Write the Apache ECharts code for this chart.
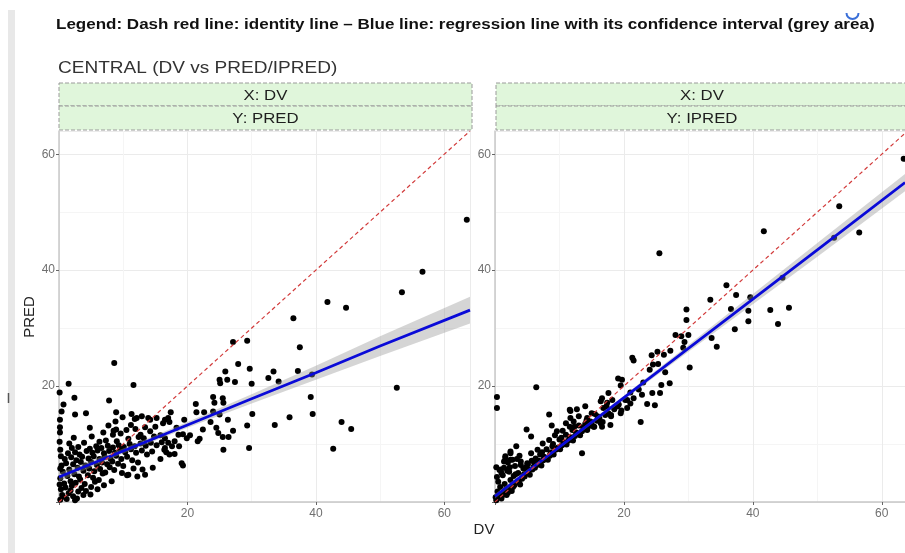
<!DOCTYPE html>
<html><head><meta charset="utf-8">
<script src="https://cdn.jsdelivr.net/npm/echarts@6.0.0/dist/echarts.min.js"></script>
<style>html,body{margin:0;padding:0;background:#fff}#c{width:905px;height:553px}</style>
</head><body><div id="c"></div>
<script>
// ---- texts ----
const legendText = 'Legend: Dash red line: identity line \u2013 Blue line: regression line with its confidence interval (grey area)';
const titleText = 'CENTRAL (DV vs PRED/IPRED)';
const stripX = ['X: DV', 'X: DV'];
const stripY = ['Y: PRED', 'Y: IPRED'];
const xName = 'DV';
const yName = 'PRED';
const tickValues = [20, 40, 60];

// ---- data: [DV, PRED] ----
const predPoints = [
[63.5,48.7],[56.6,39.7],[53.4,36.2],[41.8,34.5],[44.7,33.5],[36.5,31.7],
[29.3,27.8],[27.1,27.6],[37.5,26.7],[27.9,23.8],[25.9,22.5],[29.7,23.0],[33.4,22.5],[37.2,22.6],[32.6,21.4],[34.2,20.8],[39.4,22.0],[26.2,21.1],[27.4,20.7],[25.0,21.1],[25.1,20.5],[30.0,20.4],[52.6,19.7],[39.2,18.1],[24.0,18.1],[25.5,17.9],[24.2,17.1],[25.6,17.1],[21.3,16.9],[21.4,15.5],[22.6,15.5],[24.0,15.6],[25.0,15.1],[30.1,15.2],[39.5,15.2],[19.5,14.2],[17.4,15.5],[17.0,14.5],[16.5,14.2],[16.2,13.6],[17.2,13.8],[15.2,14.5],[14.2,14.2],[35.9,14.6],[26.3,14.2],[23.6,13.8],[44.0,13.8],[33.6,13.3],[29.3,13.2],[45.5,12.6],[27.1,12.3],[24.5,12.8],[24.8,11.9],[25.5,11.2],[26.4,11.2],[22.4,12.5],[21.9,10.9],[21.6,10.5],[20.4,11.5],[19.9,11.0],[19.3,11.7],[18.3,12.8],[18.6,11.6],[18.0,10.5],[18.7,9.6],[16.5,11.0],[17.0,10.2],[16.5,9.3],[16.7,8.6],[18.0,8.3],[19.1,6.7],[19.3,6.3],[25.6,9.0],[29.6,9.3],[42.7,9.2],
[8.6,24.0],[1.5,20.4],[11.6,20.2],[0.1,18.9],[2.4,18.0],[7.8,17.5],[0.7,16.8],[0.4,15.6],[2.5,15.1],[4.2,15.3],[8.9,15.5],[11.3,15.2],[12.1,14.5],[11.8,14.3],[12.9,14.8],[13.9,14.5],[8.8,13.9],[0.15,14.2],[4.8,12.8],[0.15,12.9],[8.9,12.5],[8.4,11.6],[0.15,12.0],[11.2,13.3],[11.9,12.6],[12.7,11.6],[13.4,12.9],
[0.2,0.4],[1.2,0.5],[2.8,0.6],[0.5,1.2],[1.5,1.5],[2.2,1.0],[3.0,1.8],[0.3,2.2],[1.0,2.5],[2.0,2.8],[3.5,2.4],[4.2,1.9],[0.8,3.2],[1.8,3.6],[2.6,3.3],[3.3,3.9],[4.0,3.1],[5.0,2.6],[5.6,3.5],[0.2,4.1],[1.3,4.5],[2.4,4.8],[3.1,4.4],[4.5,4.6],[5.3,4.2],[6.2,3.8],[6.8,4.9],[0.6,5.2],[1.6,5.6],[2.9,5.9],[3.8,5.4],[4.7,5.8],[5.5,5.3],[6.4,5.7],[7.2,5.1],[7.9,6.0],[8.6,5.5],[0.4,6.3],[1.1,6.7],[2.2,6.5],[3.4,6.9],[4.1,6.3],[5.0,6.9],[5.9,6.4],[6.7,6.8],[7.5,6.5],[8.3,7.0],[9.2,6.6],[10.0,6.2],[0.9,7.4],[1.9,7.7],[2.7,7.2],[3.6,7.8],[4.6,7.5],[5.4,7.9],[6.3,7.4],[7.1,7.8],[8.0,7.5],[8.9,8.0],[9.7,7.4],[10.6,7.8],[11.4,7.2],[12.3,6.8],[1.4,8.4],[2.5,8.6],[3.2,8.2],[4.3,8.8],[5.2,8.5],[6.0,8.9],[7.0,8.4],[7.8,8.8],[8.7,8.5],[9.5,9.0],[10.3,8.6],[11.2,9.1],[12.0,8.5],[12.9,8.9],[13.7,8.2],[14.5,8.7],[2.0,9.3],[3.0,9.5],[4.8,9.2],[5.8,9.6],[6.6,9.3],[7.6,9.7],[8.4,9.4],[9.3,9.8],[10.1,9.5],[11.0,10.0],[11.8,9.6],[12.7,10.1],[13.5,9.7],[14.3,10.2],[15.2,9.8],[16.0,10.3],[3.9,10.2],[6.3,10.4],[7.3,10.6],[9.0,10.5],[10.8,10.9],[12.4,11.2],[13.2,11.0],[14.8,11.3],[15.8,11.5],[11.6,5.8],[13.0,5.6],[12.2,4.4],[13.4,4.7],[10.8,4.7],[14.6,5.9],[9.8,5.0],[10.6,4.6],[8.2,3.6],[7.0,2.9],[15.8,7.4],[17.2,8.2],[16.4,9.0],[17.6,9.6],[15.0,13.0],[14.2,12.2],[10.5,12.4],[9.6,11.8],[8.5,12.3],[0.2,9.0],[0.1,10.4],[0.3,7.9],[0.1,3.0],[0.2,5.8],[1.6,10.1],[2.3,11.1],[5.1,11.3],[6.9,12.0],[7.7,13.2],[9.9,14.6],[0.6,0.9],[1.8,2.0],[3.8,1.2],[2.5,0.3],[6.0,2.2],[4.9,1.3]
];

// ---- data: [DV, IPRED] ----
const ipredPoints = [
[63.4,59.2],[53.4,51.0],[41.7,46.7],[56.5,46.5],[52.6,45.6],[25.5,42.9],[44.6,38.7],[35.9,37.4],[33.4,34.9],[37.4,35.7],[39.6,35.3],[29.7,33.2],[36.6,33.3],[39.3,33.0],[42.7,33.1],[45.6,33.5],[29.7,31.4],[39.3,31.2],[43.9,30.7],[37.2,29.8],[28.0,28.8],[28.9,28.6],[30.0,28.8],[33.6,28.3],[29.4,27.6],[29.2,26.6],[34.4,26.8],[27.2,26.1],[26.2,25.4],[25.2,25.9],[24.3,25.3],[21.3,24.9],[21.5,24.4],[30.2,23.2],[25.3,23.8],[24.5,23.7],[24.0,22.8],[26.4,22.4],[19.1,21.3],[19.7,21.1],[19.5,20.1],[22.3,19.4],[22.8,18.5],[21.5,17.9],[27.1,20.5],[25.8,20.2],[25.6,18.8],[24.4,18.8],[24.8,16.7],[23.6,16.9],[22.6,13.8],[20.2,17.6],[19.5,15.3],[19.2,16.8],[18.2,17.6],[17.6,18.8],[16.6,17.9],[16.4,17.4],[17.4,17.1],[14.0,16.5],[15.0,15.3],[14.3,14.5],[12.7,16.0],[11.6,15.9],[11.7,14.5],[12.2,13.9],[8.4,15.1],[8.8,13.2],[4.9,12.5],[5.6,11.3],[3.3,9.6],[6.4,19.8],[0.3,18.1],[0.3,16.2],[17.9,13.3],[16.6,13.0],[16.4,13.6],[13.5,8.4],[15.3,13.0],[14.8,13.9],[2.4,8.4],[2.7,7.3],[1.4,7.0],[1.6,7.9],[4.0,6.4],[5.0,6.7],[18.0,15.0],[20.5,16.2],[21.0,18.9],[23.0,20.6],[11.7,15.7],[2.4,8.7],[1.6,7.6],[2.4,7.3],[1.4,5.9],[0.9,5.6],
[0.2,0.3],[0.6,0.9],[1.0,0.6],[1.3,1.5],[0.4,1.8],[1.8,1.2],[2.1,2.3],[0.8,2.6],[2.6,1.9],[3.0,2.9],[1.5,3.1],[3.4,3.4],[2.4,3.8],[3.9,3.0],[4.2,4.0],[0.3,4.3],[1.2,4.6],[2.9,4.5],[4.6,4.4],[5.0,5.1],[3.6,5.0],[5.4,4.7],[1.9,5.4],[0.7,5.5],[5.8,5.6],[4.4,5.8],[6.2,5.9],[6.5,6.4],[2.3,6.0],[3.1,6.2],[5.1,6.5],[6.9,6.7],[7.2,6.3],[4.0,7.0],[5.7,7.1],[7.5,7.2],[6.3,7.5],[7.9,7.6],[8.2,7.3],[3.4,7.4],[8.5,8.0],[7.0,8.2],[8.8,8.6],[9.1,8.2],[5.6,8.4],[9.4,9.0],[8.0,9.1],[9.8,9.4],[10.1,9.1],[6.6,9.0],[10.4,9.8],[9.0,10.0],[10.8,10.2],[11.1,9.9],[7.4,10.1],[11.4,10.6],[10.0,10.8],[11.8,11.0],[12.1,10.6],[8.4,10.7],[12.4,11.4],[11.0,11.6],[12.8,11.8],[13.2,11.5],[13.5,12.2],[12.0,12.4],[13.9,12.6],[14.3,12.4],[9.3,11.5],[14.6,13.1],[13.0,13.2],[15.0,13.4],[15.4,13.0],[10.5,12.3],[15.8,14.0],[14.2,14.1],[16.2,14.4],[16.7,13.8],[11.6,13.0],[17.1,15.0],[15.5,15.2],[17.6,15.3],[18.0,14.8],[16.8,16.2],[18.5,16.0],[19.0,16.5],[20.5,17.6],[21.0,17.0],[19.6,15.8],[1.1,1.1],[2.0,1.6],[2.8,2.6],[3.7,3.6],[4.5,4.8],[5.3,5.6],[6.0,6.1],[6.8,7.1],[7.6,7.8],[8.6,8.4],[9.6,9.2],[10.6,10.4],[11.6,11.2],[12.6,12.0],[13.7,12.9],[0.1,0.8],[0.5,3.5],[1.7,2.2],[3.2,4.8],[4.8,6.0],[6.1,6.8],[7.3,8.6],[8.9,9.6],[10.3,11.1],[12.3,13.0],[14.0,13.5],[15.9,14.8],[17.3,16.5],[13.0,14.8],[11.0,13.6],[9.6,12.2],[1.0,5.0],[2.2,5.2],[2.0,6.8],[3.8,8.0],[0.2,6.0]
];

// ---- regression fits ----
const predFitX  = [0, 10, 20, 30, 40, 50, 64];
const predFit   = [4.3, 8.8, 13.3, 17.8, 22.3, 26.9, 33.1];
const predLo    = [3.6, 8.35, 12.8, 17.0, 21.1, 25.2, 30.8];
const predHi    = [5.0, 9.25, 13.8, 18.6, 23.5, 28.6, 35.4];
const ipredFitX = [0, 10, 20, 30, 40, 50, 63.6];
const ipredFit  = [1.0, 9.5, 18.0, 26.5, 35.0, 43.5, 55.1];
const ipredLo   = [0.6, 9.25, 17.65, 25.9, 34.1, 42.3, 53.6];
const ipredHi   = [1.4, 9.75, 18.35, 27.1, 35.9, 44.7, 56.6];
const identityLine = [[0, 0], [64, 64]];

// ---- layout ----
const FONT = 'Liberation Sans, Arial, Helvetica, sans-serif';
const grids = [
  {left: 59, top: 131, width: 411, height: 371},
  {left: 495, top: 131, width: 410, height: 371}
];
const xMax = [64, 63.6];
const yMax = 64;

function axisOf(i, isX) {
  return {
    gridIndex: i, type: 'value', min: 0, max: isX ? xMax[i] : yMax, interval: 20,
    axisLine: {show: true, onZero: false, lineStyle: {color: '#c8c8c8', width: 1.5}},
    axisTick: {show: true, length: 3, lineStyle: {color: '#666'}},
    axisLabel: {color: '#707070', fontSize: 12, fontFamily: FONT, margin: isX ? 6 : 4,
      showMaxLabel: false, formatter: v => (tickValues.indexOf(v) >= 0 ? String(v) : '')},
    splitLine: {show: true, lineStyle: {color: '#ebebeb', width: 1}},
    minorTick: {show: false, splitNumber: 2},
    minorSplitLine: {show: true, lineStyle: {color: '#f5f5f5', width: 1}}
  };
}
function bandSeries(i, xs, lo, hi) {
  return {
    type: 'custom', xAxisIndex: i, yAxisIndex: i, data: [[xs[0], lo[0]]], z: 3, silent: true,
    renderItem: (params, api) => {
      const pts = [];
      for (let k = 0; k < xs.length; k++) pts.push(api.coord([xs[k], hi[k]]));
      for (let k = xs.length - 1; k >= 0; k--) pts.push(api.coord([xs[k], lo[k]]));
      return {type: 'polygon', shape: {points: pts}, style: {fill: 'rgba(150,150,150,0.4)'}};
    }
  };
}
function pairs(xs, ys) { return xs.map((x, k) => [x, ys[k]]); }

const series = [];
[[predPoints, predFitX, predFit, predLo, predHi], [ipredPoints, ipredFitX, ipredFit, ipredLo, ipredHi]]
.forEach((d, i) => {
  series.push({type: 'scatter', xAxisIndex: i, yAxisIndex: i, data: d[0], symbolSize: 6,
    itemStyle: {color: '#000', opacity: 1}, z: 2, silent: true});
  series.push(bandSeries(i, d[1], d[3], d[4]));
  series.push({type: 'line', xAxisIndex: i, yAxisIndex: i, data: pairs(d[1], d[2]), symbol: 'none',
    lineStyle: {color: '#0a0ad8', width: 2.7}, z: 4, silent: true});
  series.push({type: 'line', xAxisIndex: i, yAxisIndex: i, data: identityLine, symbol: 'none', clip: true,
    lineStyle: {color: '#d23b3b', width: 1.2, type: [4, 3]}, z: 5, silent: true});
});

// decorations and texts
const graphics = [];
graphics.push({type: 'rect', shape: {x: 8, y: 10, width: 7, height: 543}, style: {fill: '#e8e8e8'}, silent: true});
graphics.push({type: 'line', shape: {x1: 8.5, y1: 393, x2: 8.5, y2: 403}, style: {stroke: '#555', lineWidth: 1.5}, silent: true});
graphics.push({type: 'arc', shape: {cx: 852.5, cy: 13, r: 6, startAngle: 0, endAngle: Math.PI}, style: {stroke: '#3a6fd8', lineWidth: 2, fill: null}, silent: true, z: 10});
grids.forEach((g, i) => {
  const w = g.width + 2;
  const x0 = g.left + (i === 0 ? 0 : 1);
  [[83, 23, stripX[i]], [106, 24, stripY[i]]].forEach(([y, h, t]) => {
    graphics.push({type: 'rect', shape: {x: x0, y: y, width: w, height: h},
      style: {fill: '#e0f6db', stroke: '#9a9a9a', lineWidth: 1, lineDash: [4, 2]}, silent: true});
    graphics.push({type: 'text', x: x0 + w / 2, y: y + h / 2 + 1, scaleX: 1.12,
      style: {text: t, fill: '#1e1e1e', font: '15px ' + FONT, align: 'center', verticalAlign: 'middle'}, silent: true});
  });
});
graphics.push({type: 'text', x: 56, y: 25, scaleX: 1.134, style: {text: legendText, fill: '#111', font: 'bold 15px ' + FONT, verticalAlign: 'middle'}, silent: true});
graphics.push({type: 'text', x: 58, y: 68, scaleX: 1.12, style: {text: titleText, fill: '#333', font: '17px ' + FONT, verticalAlign: 'middle'}, silent: true});
graphics.push({type: 'text', x: 30, y: 317, rotation: Math.PI / 2, style: {text: yName, fill: '#222', font: '15px ' + FONT, align: 'center', verticalAlign: 'middle'}, silent: true});
graphics.push({type: 'text', x: 484, y: 530, style: {text: xName, fill: '#222', font: '15px ' + FONT, align: 'center', verticalAlign: 'middle'}, silent: true});

const chart = echarts.init(document.getElementById('c'), null, {renderer: 'canvas'});
chart.setOption({
  backgroundColor: '#fff',
  animation: false,
  grid: grids,
  xAxis: [axisOf(0, true), axisOf(1, true)],
  yAxis: [axisOf(0, false), axisOf(1, false)],
  series: series,
  graphic: graphics
});
</script></body></html>
